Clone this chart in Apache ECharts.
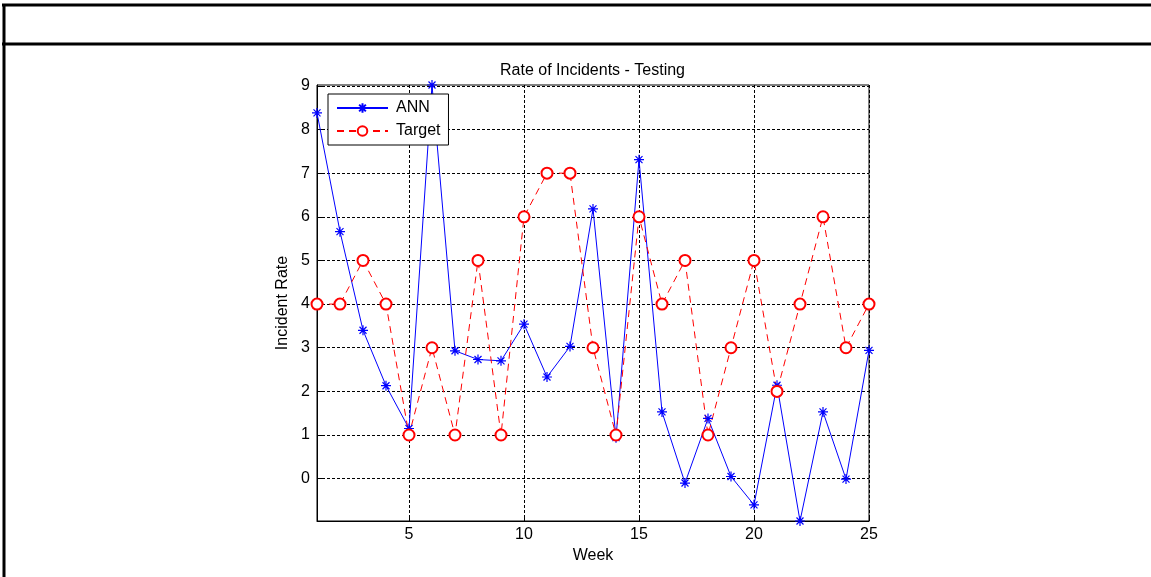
<!DOCTYPE html>
<html lang="en">
<head>
    <meta charset="UTF-8">
    <title>Rate of Incidents - Testing</title>
    <script src="https://cdn.jsdelivr.net/npm/echarts@6/dist/echarts.min.js"></script>
    <style>
        html, body { margin: 0; padding: 0; background: #fff; }
        #chart { width: 1151px; height: 577px; }
    </style>
</head>
<body>
<div id="chart"></div>
<script type="text/javascript">
    // weeks on the x axis
    var weeks = [1, 2, 3, 4, 5, 6, 7, 8, 9, 10, 11, 12, 13, 14, 15, 16, 17, 18, 19, 20, 21, 22, 23, 24, 25];
    // network output
    var annValues = [8.38, 5.66, 3.40, 2.13, 1.15, 9.02, 2.93, 2.73, 2.70, 3.54, 2.33, 3.03, 6.18,
        0.94, 7.31, 1.53, -0.10, 1.38, 0.05, -0.60, 2.14, -0.97, 1.53, -0.01, 2.94];
    // target incident rate
    var targetValues = [4, 4, 5, 4, 1, 3, 1, 5, 1, 6, 7, 7, 3, 1, 6, 4, 5, 1, 3, 5, 2, 4, 6, 3, 4];
    var xTicks = [5, 10, 15, 20, 25];
    var yTicks = [0, 1, 2, 3, 4, 5, 6, 7, 8, 9];

    var FONT = '"Liberation Sans", Arial, sans-serif';
    // asterisk marker like matlab '*'
    var STAR = 'path://M0 5L10 5M5 0L5 10M1.5 1.5L8.5 8.5M8.5 1.5L1.5 8.5';

    function pairs(vals) {
        var out = [];
        for (var i = 0; i < weeks.length; i++) {
            out.push([weeks[i], vals[i]]);
        }
        return out;
    }

    var myChart = echarts.init(document.getElementById('chart'));
    myChart.setOption({
        animation: false,
        textStyle: {fontFamily: FONT},
        title: {
            text: 'Rate of Incidents - Testing',
            left: 495,
            top: 58,
            textStyle: {fontFamily: FONT, fontSize: 16, fontWeight: 'normal', color: '#000'}
        },
        legend: {
            orient: 'vertical',
            left: 328,
            top: 94,
            padding: [6, 8, 6, 8],
            itemGap: 7,
            itemWidth: 51,
            itemHeight: 12,
            backgroundColor: '#fff',
            borderColor: '#000',
            borderWidth: 1,
            borderRadius: 0,
            textStyle: {fontFamily: FONT, fontSize: 16, color: '#000', padding: [0, 0, 0, 3]},
            data: ['ANN', 'Target']
        },
        grid: {
            left: 317,
            right: 282,
            top: 85,
            bottom: 56,
            show: true,
            borderColor: '#000',
            borderWidth: 1,
            backgroundColor: '#fff'
        },
        xAxis: {
            type: 'value',
            min: 1,
            max: 25,
            name: 'Week',
            nameLocation: 'middle',
            nameGap: 25,
            nameTextStyle: {fontFamily: FONT, fontSize: 16, color: '#000'},
            axisLine: {onZero: false, lineStyle: {color: '#000', width: 1}},
            axisTick: {inside: true, length: 5, lineStyle: {color: '#000'}, customValues: xTicks},
            axisLabel: {fontFamily: FONT, fontSize: 16, color: '#000', margin: 6, customValues: xTicks},
            splitLine: {show: true, lineStyle: {color: '#000', width: 1, type: [3, 2]}}
        },
        yAxis: {
            type: 'value',
            min: -0.97,
            max: 9.02,
            name: 'Incident Rate',
            nameLocation: 'middle',
            nameGap: 26,
            nameTextStyle: {fontFamily: FONT, fontSize: 16, color: '#000'},
            axisLine: {show: true, onZero: false, lineStyle: {color: '#000', width: 1}},
            axisTick: {show: true, inside: true, length: 5, lineStyle: {color: '#000'}, customValues: yTicks},
            axisLabel: {fontFamily: FONT, fontSize: 16, color: '#000', margin: 7, customValues: yTicks},
            splitLine: {show: true, lineStyle: {color: '#000', width: 1, type: [3, 2]}}
        },
        graphic: [
            {type: 'line', shape: {x1: 2, y1: 5, x2: 1151, y2: 5}, style: {stroke: '#000', lineWidth: 3}},
            {type: 'line', shape: {x1: 2, y1: 44, x2: 1151, y2: 44}, style: {stroke: '#000', lineWidth: 3}},
            {type: 'line', shape: {x1: 4, y1: 4, x2: 4, y2: 577}, style: {stroke: '#000', lineWidth: 3}}
        ],
        series: [{
            name: 'ANN',
            type: 'line',
            data: pairs(annValues),
            symbol: STAR,
            symbolSize: 10,
            showAllSymbol: true,
            clip: true,
            lineStyle: {color: '#0000ff', width: 1},
            itemStyle: {color: '#0000ff', borderColor: '#0000ff', borderWidth: 1.2}
        }, {
            name: 'Target',
            type: 'line',
            data: pairs(targetValues),
            symbol: 'emptyCircle',
            symbolSize: 11,
            showAllSymbol: true,
            clip: true,
            lineStyle: {color: '#ff0000', width: 1, type: [7, 5]},
            itemStyle: {color: '#ff0000', borderColor: '#ff0000', borderWidth: 1}
        }]
    });
</script>
</body>
</html>
